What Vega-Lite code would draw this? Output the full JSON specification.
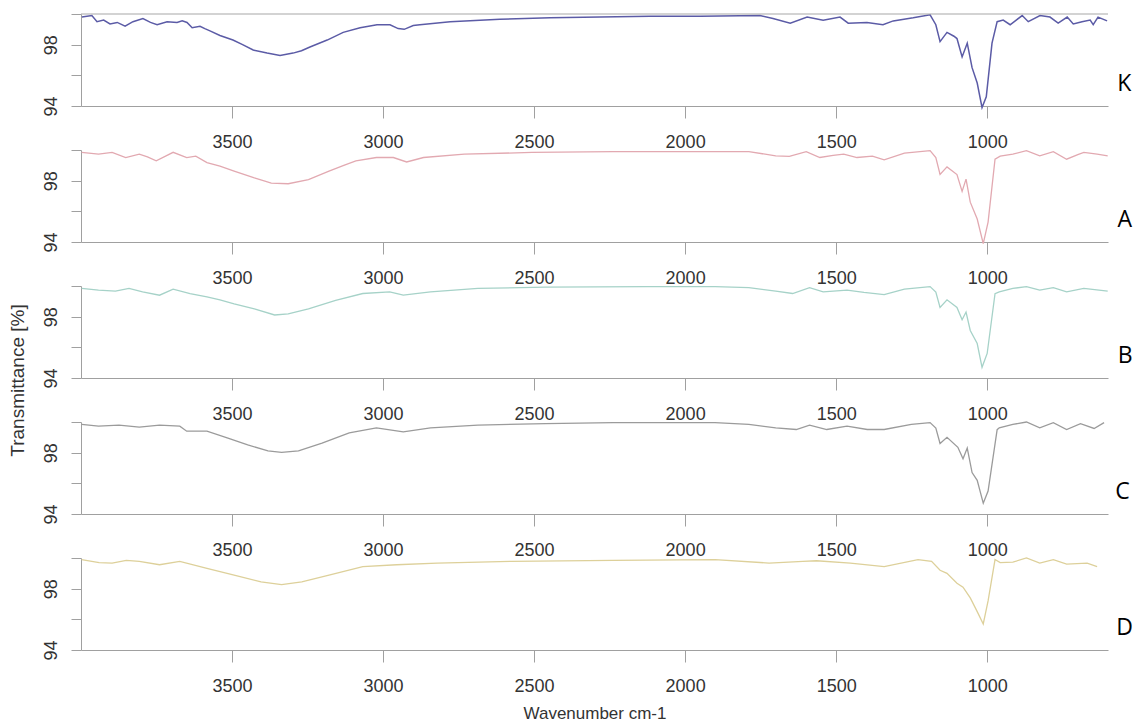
{
  "$schema": "https://vega.github.io/schema/vega-lite/v6.json",
  "background": "white",
  "padding": {"left": 8, "top": 11, "right": 0, "bottom": 2},
  "bounds": "flush",
  "spacing": 44,
  "config": {
    "view": {"stroke": null},
    "axis": {
      "grid": false,
      "domainColor": "#a0a0a0",
      "tickColor": "#a0a0a0",
      "labelColor": "#333333",
      "titleColor": "#333333",
      "labelFont": "Liberation Sans",
      "titleFont": "Liberation Sans",
      "labelFontSize": 18,
      "titleFontSize": 17,
      "titleFontWeight": "normal"
    },
    "axisX": {"format": "d", "tickSize": 12, "labelPadding": 15},
    "axisY": {"labelAngle": 270, "tickSize": 10, "labelPadding": 11, "labelOverlap": false},
    "title": {
      "orient": "right",
      "angle": 0,
      "anchor": "middle",
      "align": "left",
      "baseline": "middle",
      "offset": 9,
      "dx": -9,
      "dy": 13,
      "fontSize": 23,
      "fontWeight": "normal",
      "font": "Open Sans",
      "color": "#000000"
    }
  },
  "data": {
    "values": [
      {"s":"K","wn":3997,"T":99.8},{"s":"K","wn":3964,"T":99.9},{"s":"K","wn":3947,"T":99.5},{"s":"K","wn":3925,"T":99.6},{"s":"K","wn":3904,"T":99.35},{"s":"K","wn":3880,"T":99.45},{"s":"K","wn":3854,"T":99.2},{"s":"K","wn":3828,"T":99.5},{"s":"K","wn":3795,"T":99.7},{"s":"K","wn":3770,"T":99.45},{"s":"K","wn":3748,"T":99.3},{"s":"K","wn":3715,"T":99.5},{"s":"K","wn":3682,"T":99.45},{"s":"K","wn":3665,"T":99.55},{"s":"K","wn":3649,"T":99.45},{"s":"K","wn":3632,"T":99.1},{"s":"K","wn":3606,"T":99.2},{"s":"K","wn":3590,"T":99.05},{"s":"K","wn":3573,"T":98.9},{"s":"K","wn":3540,"T":98.6},{"s":"K","wn":3497,"T":98.3},{"s":"K","wn":3465,"T":98.0},{"s":"K","wn":3430,"T":97.65},{"s":"K","wn":3384,"T":97.45},{"s":"K","wn":3341,"T":97.3},{"s":"K","wn":3298,"T":97.45},{"s":"K","wn":3270,"T":97.6},{"s":"K","wn":3242,"T":97.85},{"s":"K","wn":3185,"T":98.3},{"s":"K","wn":3132,"T":98.8},{"s":"K","wn":3076,"T":99.1},{"s":"K","wn":3020,"T":99.3},{"s":"K","wn":2977,"T":99.3},{"s":"K","wn":2950,"T":99.05},{"s":"K","wn":2930,"T":99.0},{"s":"K","wn":2900,"T":99.25},{"s":"K","wn":2878,"T":99.3},{"s":"K","wn":2778,"T":99.5},{"s":"K","wn":2613,"T":99.65},{"s":"K","wn":2447,"T":99.75},{"s":"K","wn":2282,"T":99.8},{"s":"K","wn":2116,"T":99.85},{"s":"K","wn":1950,"T":99.85},{"s":"K","wn":1752,"T":99.9},{"s":"K","wn":1709,"T":99.7},{"s":"K","wn":1652,"T":99.4},{"s":"K","wn":1596,"T":99.8},{"s":"K","wn":1543,"T":99.6},{"s":"K","wn":1487,"T":99.8},{"s":"K","wn":1460,"T":99.4},{"s":"K","wn":1398,"T":99.45},{"s":"K","wn":1345,"T":99.3},{"s":"K","wn":1311,"T":99.55},{"s":"K","wn":1245,"T":99.75},{"s":"K","wn":1189,"T":99.95},{"s":"K","wn":1170,"T":99.3},{"s":"K","wn":1156,"T":98.2},{"s":"K","wn":1133,"T":98.8},{"s":"K","wn":1110,"T":98.55},{"s":"K","wn":1100,"T":98.4},{"s":"K","wn":1083,"T":97.2},{"s":"K","wn":1066,"T":98.1},{"s":"K","wn":1050,"T":96.5},{"s":"K","wn":1033,"T":95.5},{"s":"K","wn":1017,"T":93.9},{"s":"K","wn":1003,"T":94.6},{"s":"K","wn":984,"T":98.1},{"s":"K","wn":967,"T":99.5},{"s":"K","wn":947,"T":99.6},{"s":"K","wn":924,"T":99.3},{"s":"K","wn":884,"T":99.9},{"s":"K","wn":864,"T":99.5},{"s":"K","wn":825,"T":99.9},{"s":"K","wn":792,"T":99.8},{"s":"K","wn":765,"T":99.4},{"s":"K","wn":735,"T":99.8},{"s":"K","wn":715,"T":99.35},{"s":"K","wn":686,"T":99.5},{"s":"K","wn":659,"T":99.6},{"s":"K","wn":649,"T":99.3},{"s":"K","wn":633,"T":99.8},{"s":"K","wn":603,"T":99.55},

      {"s":"A","wn":3998,"T":99.85},{"s":"A","wn":3942,"T":99.73},{"s":"A","wn":3897,"T":99.85},{"s":"A","wn":3852,"T":99.5},{"s":"A","wn":3807,"T":99.73},{"s":"A","wn":3780,"T":99.55},{"s":"A","wn":3751,"T":99.3},{"s":"A","wn":3720,"T":99.6},{"s":"A","wn":3695,"T":99.85},{"s":"A","wn":3650,"T":99.5},{"s":"A","wn":3620,"T":99.6},{"s":"A","wn":3583,"T":99.18},{"s":"A","wn":3540,"T":98.95},{"s":"A","wn":3493,"T":98.62},{"s":"A","wn":3426,"T":98.18},{"s":"A","wn":3370,"T":97.84},{"s":"A","wn":3314,"T":97.8},{"s":"A","wn":3247,"T":98.07},{"s":"A","wn":3179,"T":98.62},{"s":"A","wn":3130,"T":99.0},{"s":"A","wn":3090,"T":99.29},{"s":"A","wn":3022,"T":99.51},{"s":"A","wn":2966,"T":99.51},{"s":"A","wn":2922,"T":99.22},{"s":"A","wn":2866,"T":99.51},{"s":"A","wn":2731,"T":99.73},{"s":"A","wn":2507,"T":99.84},{"s":"A","wn":2238,"T":99.9},{"s":"A","wn":1901,"T":99.9},{"s":"A","wn":1789,"T":99.89},{"s":"A","wn":1700,"T":99.62},{"s":"A","wn":1655,"T":99.58},{"s":"A","wn":1599,"T":99.89},{"s":"A","wn":1554,"T":99.51},{"s":"A","wn":1510,"T":99.65},{"s":"A","wn":1475,"T":99.73},{"s":"A","wn":1431,"T":99.51},{"s":"A","wn":1380,"T":99.6},{"s":"A","wn":1341,"T":99.36},{"s":"A","wn":1274,"T":99.8},{"s":"A","wn":1189,"T":99.96},{"s":"A","wn":1170,"T":99.5},{"s":"A","wn":1156,"T":98.4},{"s":"A","wn":1133,"T":98.9},{"s":"A","wn":1100,"T":98.4},{"s":"A","wn":1083,"T":97.3},{"s":"A","wn":1070,"T":98.1},{"s":"A","wn":1056,"T":96.6},{"s":"A","wn":1033,"T":95.5},{"s":"A","wn":1013,"T":93.9},{"s":"A","wn":997,"T":95.3},{"s":"A","wn":974,"T":99.4},{"s":"A","wn":957,"T":99.6},{"s":"A","wn":915,"T":99.73},{"s":"A","wn":870,"T":99.96},{"s":"A","wn":826,"T":99.62},{"s":"A","wn":781,"T":99.89},{"s":"A","wn":737,"T":99.4},{"s":"A","wn":700,"T":99.7},{"s":"A","wn":680,"T":99.84},{"s":"A","wn":636,"T":99.73},{"s":"A","wn":601,"T":99.62},

      {"s":"B","wn":3998,"T":99.85},{"s":"B","wn":3942,"T":99.73},{"s":"B","wn":3886,"T":99.67},{"s":"B","wn":3841,"T":99.84},{"s":"B","wn":3796,"T":99.62},{"s":"B","wn":3740,"T":99.4},{"s":"B","wn":3695,"T":99.8},{"s":"B","wn":3639,"T":99.51},{"s":"B","wn":3583,"T":99.29},{"s":"B","wn":3540,"T":99.1},{"s":"B","wn":3493,"T":98.84},{"s":"B","wn":3426,"T":98.51},{"s":"B","wn":3359,"T":98.11},{"s":"B","wn":3314,"T":98.18},{"s":"B","wn":3247,"T":98.51},{"s":"B","wn":3157,"T":99.07},{"s":"B","wn":3067,"T":99.51},{"s":"B","wn":2978,"T":99.62},{"s":"B","wn":2933,"T":99.4},{"s":"B","wn":2843,"T":99.62},{"s":"B","wn":2686,"T":99.84},{"s":"B","wn":2462,"T":99.93},{"s":"B","wn":2126,"T":99.96},{"s":"B","wn":1901,"T":99.96},{"s":"B","wn":1789,"T":99.89},{"s":"B","wn":1700,"T":99.67},{"s":"B","wn":1644,"T":99.51},{"s":"B","wn":1588,"T":99.89},{"s":"B","wn":1543,"T":99.62},{"s":"B","wn":1464,"T":99.73},{"s":"B","wn":1408,"T":99.58},{"s":"B","wn":1341,"T":99.44},{"s":"B","wn":1274,"T":99.8},{"s":"B","wn":1189,"T":99.96},{"s":"B","wn":1170,"T":99.6},{"s":"B","wn":1156,"T":98.6},{"s":"B","wn":1133,"T":99.1},{"s":"B","wn":1100,"T":98.6},{"s":"B","wn":1083,"T":97.8},{"s":"B","wn":1070,"T":98.3},{"s":"B","wn":1056,"T":97.1},{"s":"B","wn":1033,"T":96.25},{"s":"B","wn":1017,"T":94.7},{"s":"B","wn":1000,"T":95.6},{"s":"B","wn":974,"T":99.5},{"s":"B","wn":960,"T":99.62},{"s":"B","wn":915,"T":99.84},{"s":"B","wn":870,"T":99.96},{"s":"B","wn":826,"T":99.73},{"s":"B","wn":781,"T":99.89},{"s":"B","wn":737,"T":99.62},{"s":"B","wn":680,"T":99.84},{"s":"B","wn":601,"T":99.67},

      {"s":"C","wn":3998,"T":99.85},{"s":"C","wn":3942,"T":99.73},{"s":"C","wn":3874,"T":99.8},{"s":"C","wn":3807,"T":99.67},{"s":"C","wn":3740,"T":99.8},{"s":"C","wn":3673,"T":99.73},{"s":"C","wn":3650,"T":99.4},{"s":"C","wn":3583,"T":99.4},{"s":"C","wn":3516,"T":98.96},{"s":"C","wn":3448,"T":98.51},{"s":"C","wn":3381,"T":98.11},{"s":"C","wn":3336,"T":98.02},{"s":"C","wn":3280,"T":98.11},{"s":"C","wn":3202,"T":98.62},{"s":"C","wn":3112,"T":99.29},{"s":"C","wn":3022,"T":99.62},{"s":"C","wn":2933,"T":99.36},{"s":"C","wn":2843,"T":99.62},{"s":"C","wn":2686,"T":99.8},{"s":"C","wn":2462,"T":99.89},{"s":"C","wn":2238,"T":99.96},{"s":"C","wn":1901,"T":99.96},{"s":"C","wn":1789,"T":99.84},{"s":"C","wn":1700,"T":99.62},{"s":"C","wn":1632,"T":99.51},{"s":"C","wn":1588,"T":99.8},{"s":"C","wn":1531,"T":99.51},{"s":"C","wn":1464,"T":99.73},{"s":"C","wn":1397,"T":99.51},{"s":"C","wn":1341,"T":99.51},{"s":"C","wn":1251,"T":99.84},{"s":"C","wn":1189,"T":99.96},{"s":"C","wn":1170,"T":99.6},{"s":"C","wn":1156,"T":98.6},{"s":"C","wn":1133,"T":99.0},{"s":"C","wn":1097,"T":98.35},{"s":"C","wn":1080,"T":97.6},{"s":"C","wn":1066,"T":98.3},{"s":"C","wn":1050,"T":96.7},{"s":"C","wn":1033,"T":96.2},{"s":"C","wn":1013,"T":94.7},{"s":"C","wn":997,"T":95.5},{"s":"C","wn":967,"T":99.5},{"s":"C","wn":960,"T":99.62},{"s":"C","wn":915,"T":99.84},{"s":"C","wn":870,"T":100},{"s":"C","wn":826,"T":99.62},{"s":"C","wn":781,"T":99.96},{"s":"C","wn":737,"T":99.51},{"s":"C","wn":691,"T":99.89},{"s":"C","wn":646,"T":99.58},{"s":"C","wn":613,"T":99.96},

      {"s":"D","wn":3998,"T":99.89},{"s":"D","wn":3940,"T":99.7},{"s":"D","wn":3897,"T":99.67},{"s":"D","wn":3850,"T":99.85},{"s":"D","wn":3807,"T":99.78},{"s":"D","wn":3740,"T":99.56},{"s":"D","wn":3673,"T":99.78},{"s":"D","wn":3583,"T":99.33},{"s":"D","wn":3493,"T":98.89},{"s":"D","wn":3404,"T":98.44},{"s":"D","wn":3336,"T":98.27},{"s":"D","wn":3269,"T":98.44},{"s":"D","wn":3179,"T":98.89},{"s":"D","wn":3067,"T":99.44},{"s":"D","wn":2955,"T":99.56},{"s":"D","wn":2821,"T":99.67},{"s":"D","wn":2574,"T":99.78},{"s":"D","wn":2238,"T":99.84},{"s":"D","wn":1901,"T":99.89},{"s":"D","wn":1722,"T":99.67},{"s":"D","wn":1610,"T":99.78},{"s":"D","wn":1565,"T":99.82},{"s":"D","wn":1453,"T":99.67},{"s":"D","wn":1341,"T":99.44},{"s":"D","wn":1229,"T":99.89},{"s":"D","wn":1184,"T":99.78},{"s":"D","wn":1156,"T":99.2},{"s":"D","wn":1133,"T":99.0},{"s":"D","wn":1100,"T":98.35},{"s":"D","wn":1080,"T":98.1},{"s":"D","wn":1056,"T":97.4},{"s":"D","wn":1033,"T":96.5},{"s":"D","wn":1013,"T":95.7},{"s":"D","wn":997,"T":97.2},{"s":"D","wn":974,"T":99.9},{"s":"D","wn":957,"T":99.7},{"s":"D","wn":915,"T":99.73},{"s":"D","wn":870,"T":100},{"s":"D","wn":826,"T":99.67},{"s":"D","wn":781,"T":99.89},{"s":"D","wn":737,"T":99.6},{"s":"D","wn":669,"T":99.67},{"s":"D","wn":636,"T":99.44}
    ]
  },
  "vconcat": [
    {
      "width": 1027, "height": 92,
      "title": {"text": "K"},
      "layer": [
        {
          "transform": [{"filter": "datum.s === 'K'"}],
          "mark": {"type": "line", "color": "#5b5ba6", "strokeWidth": 1.5},
          "encoding": {
            "x": {"field": "wn", "type": "quantitative", "scale": {"domain": [600, 4000], "reverse": true, "nice": false, "zero": false},
                  "axis": {"values": [3500, 3000, 2500, 2000, 1500, 1000], "title": null}},
            "y": {"field": "T", "type": "quantitative", "scale": {"domain": [94, 100], "nice": false, "zero": false},
                  "axis": {"values": [94, 96, 98, 100], "labelExpr": "datum.value == 94 || datum.value == 98 ? datum.label : ''", "title": null}}
          }
        },
        {
          "data": {"values": [{}]},
          "mark": {"type": "rule", "color": "#a8a8a8", "strokeWidth": 1.2},
          "encoding": {"y": {"datum": 100, "type": "quantitative", "axis": {"values": [94, 96, 98, 100], "labelExpr": "datum.value == 94 || datum.value == 98 ? datum.label : ''", "title": null}}}
        }
      ]
    },
    {
      "width": 1027, "height": 92,
      "title": {"text": "A"},
      "transform": [{"filter": "datum.s === 'A'"}],
      "mark": {"type": "line", "color": "#e2a9b1", "strokeWidth": 1.3},
      "encoding": {
        "x": {"field": "wn", "type": "quantitative", "scale": {"domain": [600, 4000], "reverse": true, "nice": false, "zero": false},
              "axis": {"values": [3500, 3000, 2500, 2000, 1500, 1000], "title": null}},
        "y": {"field": "T", "type": "quantitative", "scale": {"domain": [94, 100], "nice": false, "zero": false},
              "axis": {"values": [94, 96, 98, 100], "labelExpr": "datum.value == 94 || datum.value == 98 ? datum.label : ''", "title": null}}
      }
    },
    {
      "width": 1027, "height": 92,
      "title": {"text": "B"},
      "transform": [{"filter": "datum.s === 'B'"}],
      "mark": {"type": "line", "color": "#a6d2c8", "strokeWidth": 1.3},
      "encoding": {
        "x": {"field": "wn", "type": "quantitative", "scale": {"domain": [600, 4000], "reverse": true, "nice": false, "zero": false},
              "axis": {"values": [3500, 3000, 2500, 2000, 1500, 1000], "title": null}},
        "y": {"field": "T", "type": "quantitative", "scale": {"domain": [94, 100], "nice": false, "zero": false},
              "axis": {"values": [94, 96, 98, 100], "labelExpr": "datum.value == 94 || datum.value == 98 ? datum.label : ''",
                       "title": "Transmittance [%]", "titleFontSize": 19, "titleX": -64, "titleY": 94, "titleAngle": 270, "titleAlign": "center", "titleBaseline": "middle"}}
      }
    },
    {
      "width": 1027, "height": 92,
      "title": {"text": "C"},
      "transform": [{"filter": "datum.s === 'C'"}],
      "mark": {"type": "line", "color": "#9b9b9b", "strokeWidth": 1.3},
      "encoding": {
        "x": {"field": "wn", "type": "quantitative", "scale": {"domain": [600, 4000], "reverse": true, "nice": false, "zero": false},
              "axis": {"values": [3500, 3000, 2500, 2000, 1500, 1000], "title": null}},
        "y": {"field": "T", "type": "quantitative", "scale": {"domain": [94, 100], "nice": false, "zero": false},
              "axis": {"values": [94, 96, 98, 100], "labelExpr": "datum.value == 94 || datum.value == 98 ? datum.label : ''", "title": null}}
      }
    },
    {
      "width": 1027, "height": 92,
      "title": {"text": "D"},
      "transform": [{"filter": "datum.s === 'D'"}],
      "mark": {"type": "line", "color": "#ddd09a", "strokeWidth": 1.3},
      "encoding": {
        "x": {"field": "wn", "type": "quantitative", "scale": {"domain": [600, 4000], "reverse": true, "nice": false, "zero": false},
              "axis": {"values": [3500, 3000, 2500, 2000, 1500, 1000], "title": "Wavenumber cm-1", "titlePadding": 10}},
        "y": {"field": "T", "type": "quantitative", "scale": {"domain": [94, 100], "nice": false, "zero": false},
              "axis": {"values": [94, 96, 98, 100], "labelExpr": "datum.value == 94 || datum.value == 98 ? datum.label : ''", "title": null}}
      }
    }
  ]
}
